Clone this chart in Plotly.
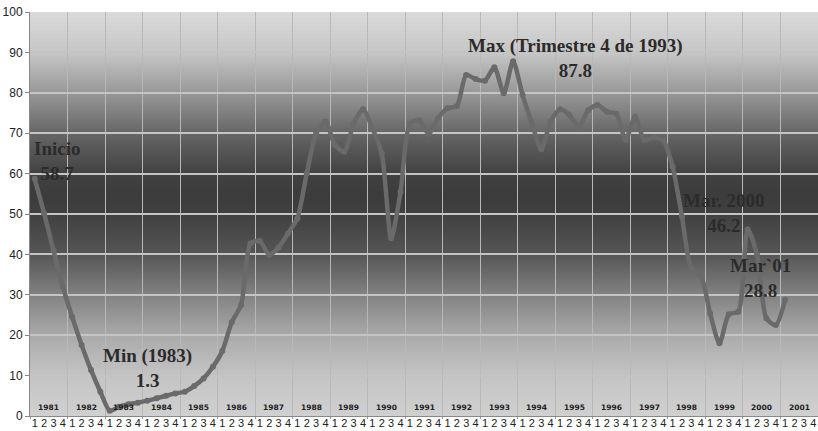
import plotly.graph_objects as go
import numpy as np

years = list(range(1981, 2002))
quarter_labels = ["1", "2", "3", "4"]

# quarterly values, 1981-T1 .. 2001-T1
values = [
    58.7, 50.2, 41.0, 32.0,
    24.5, 17.6, 11.4, 6.0,
    1.3, 2.3, 2.9, 3.3,
    3.8, 4.4, 5.0, 5.6,
    6.0, 7.4, 9.3, 12.2,
    16.1, 23.2, 27.5, 42.7,
    43.3, 39.9, 41.7, 45.2,
    48.9, 60.0, 70.0, 72.9,
    67.1, 65.4, 72.4, 75.9,
    71.2, 65.0, 44.0, 55.5,
    72.4, 73.2, 69.8, 73.7,
    76.2, 76.7, 84.4, 83.4,
    83.0, 86.3, 79.9, 87.8,
    79.5, 72.4, 66.0, 72.9,
    75.9, 74.5, 71.6, 75.7,
    77.0, 75.3, 74.8, 68.3,
    74.1, 68.3, 69.0, 68.2,
    61.7, 49.3, 36.5, 34.9,
    25.4, 18.0, 25.2, 25.8,
    46.2, 39.9, 24.2, 22.5,
    28.8,
]

notes_text = ["Inicio<br>58.7", "Min (1983)<br>1.3", "Max (Trimestre 4 de 1993)<br>87.8",
              "Mar. 2000<br>46.2", "Mar`01<br>28.8"]
notes_x = [2.4, 12.0, 57.6, 73.5, 77.4]
notes_y = [63.1, 11.9, 88.6, 50.2, 34.2]

n_cat = len(years) * 4
cat_x = list(range(n_cat))
cat_text = [quarter_labels[i % 4] for i in cat_x]
year_bounds = [4 * k - 0.5 for k in range(len(years) + 1)]

fig = go.Figure()
fig.add_trace(go.Scatter(
    x=cat_x[:len(values)], y=values, mode="lines+markers",
    line=dict(color="#6a6a6a", width=4.5, shape="spline", smoothing=0.7),
    marker=dict(color="#6a6a6a", size=6),
    hoverinfo="y", showlegend=False,
))

# gradient background
stops_v = [0, 10, 20, 30, 40, 50, 55, 60, 70, 80, 90, 100]
stops_c = [208, 196, 170, 130, 86, 64, 60, 66, 102, 152, 198, 218]
shapes = []
step = 0.5
for k in range(int(100 / step)):
    v0 = k * step
    g = int(round(np.interp(v0 + step / 2, stops_v, stops_c)))
    shapes.append(dict(type="rect", xref="x domain", yref="y", x0=0, x1=1,
                       y0=v0, y1=min(v0 + step + 0.4, 100), fillcolor=f"rgb({g},{g},{g})",
                       line=dict(width=0), layer="below"))

annotations = []
for i, yv in enumerate(years):
    annotations.append(dict(x=4 * i + 1.5, y=2.0, xref="x", yref="y", text=f"<b>{yv}</b>",
                            showarrow=False,
                            font=dict(family="DejaVu Sans", size=7.5, color="#222"),
                            xanchor="center", yanchor="middle"))
for t, xv, yv in zip(notes_text, notes_x, notes_y):
    annotations.append(dict(x=xv, y=yv, xref="x", yref="y", text=f"<b>{t}</b>",
                            showarrow=False, align="center",
                            font=dict(family="Liberation Serif", size=19, color="#2b2b2b"),
                            xanchor="center", yanchor="middle"))

fig.update_layout(
    width=818, height=431,
    margin=dict(l=30, r=0, t=12, b=15, autoexpand=False),
    paper_bgcolor="white", plot_bgcolor="#d0d0d0",
    shapes=shapes, annotations=annotations,
    xaxis=dict(range=[-0.5, n_cat - 0.5], tickmode="array", tickvals=cat_x, ticktext=cat_text,
               automargin=False,
               showgrid=False, zeroline=False, ticks="", ticklen=0,
               ticklabelstandoff=-3,
               tickfont=dict(family="Liberation Sans", size=11, color="#222"),
               showline=True, linecolor="#888", linewidth=1,
               minor=dict(tickmode="array", tickvals=year_bounds, showgrid=True,
                          gridcolor="#b8b8b8", gridwidth=1, ticks="outside", ticklen=2,
                          tickcolor="#999")),
    yaxis=dict(range=[0, 100], tickmode="array", tickvals=list(range(0, 101, 10)),
               automargin=False,
               showgrid=True, gridcolor="#c4c4c4", gridwidth=1.5, zeroline=False,
               ticks="outside", ticklen=4, tickcolor="#888",
               showline=True, linecolor="#888", linewidth=1,
               tickfont=dict(family="Liberation Sans", size=12, color="#222"),
               tickprefix="<b>", ticksuffix="</b>"),
)

fig.write_html("out.html", config={"displayModeBar": False},
               post_script="document.body.style.margin='0';document.body.style.overflow='hidden';")
